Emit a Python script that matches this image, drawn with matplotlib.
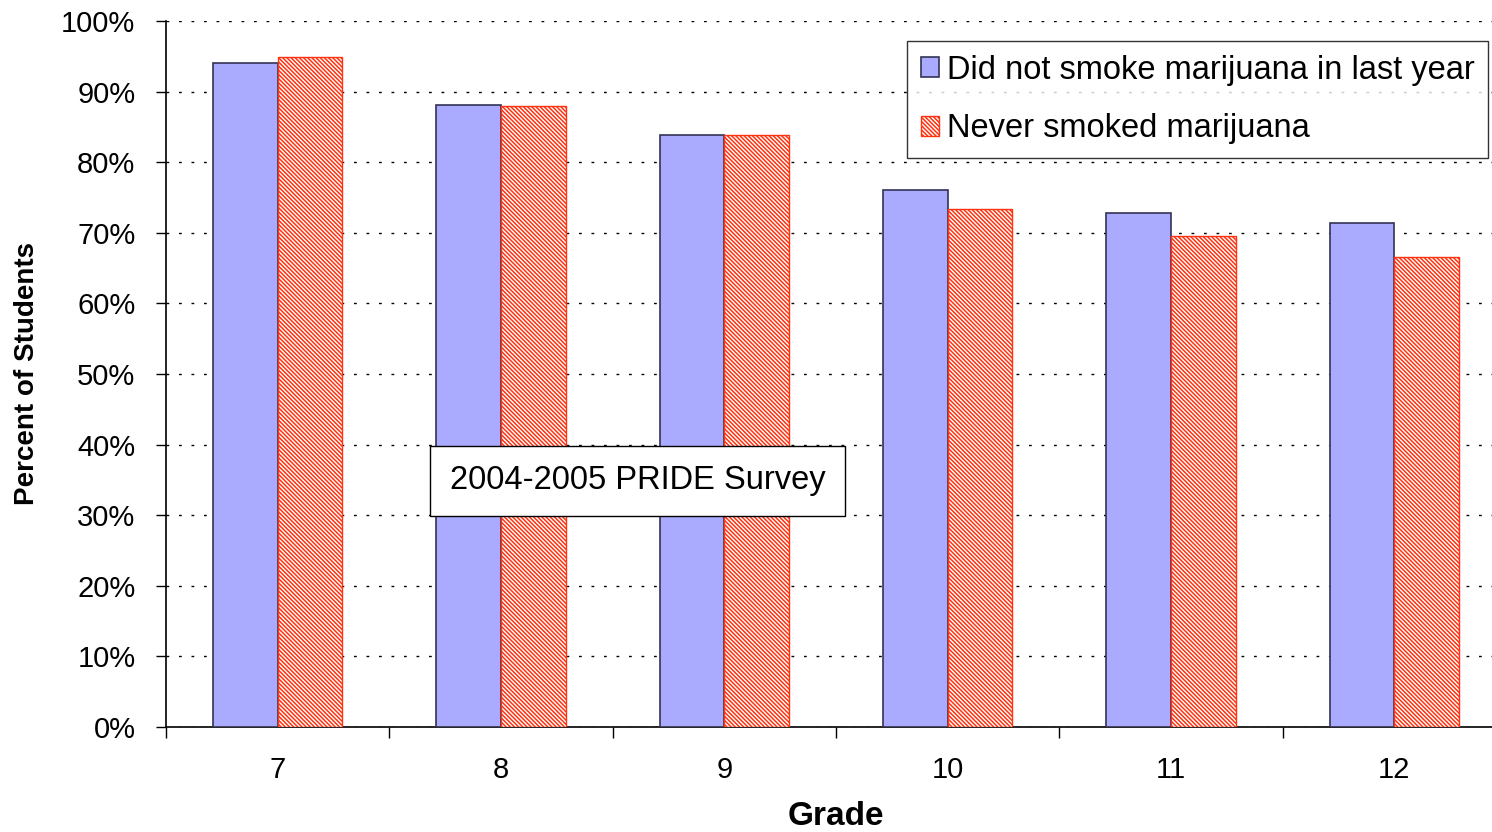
import numpy as np
import matplotlib.pyplot as plt
from matplotlib.ticker import FixedLocator, PercentFormatter

plt.rcParams['font.family'] = ['Liberation Sans', 'DejaVu Sans']
plt.rcParams['hatch.linewidth'] = 1.1

grades = ['7', '8', '9', '10', '11', '12']
not_last_year = [94.0, 88.1, 83.9, 76.1, 72.8, 71.4]
never_smoked = [94.9, 88.0, 83.8, 73.4, 69.5, 66.6]

fig = plt.figure(figsize=(14.92, 8.32), dpi=100)
ax = fig.add_axes([166 / 1492, 1 - 727 / 832, 1340 / 1492, 706 / 832])

x = np.arange(len(grades))
w = 0.29
ax.bar(x - w / 2, not_last_year, w, color='#AAAAFF', edgecolor='#333355',
       linewidth=1.2, label='Did not smoke marijuana in last year', zorder=3)
ax.bar(x + w / 2, never_smoked, w, color='white', edgecolor='#FF3311',
       hatch='\\' * 8, linewidth=1.0, label='Never smoked marijuana', zorder=3)

ax.set_xlim(-0.5, len(grades) - 0.5)
ax.set_ylim(0, 100)
ax.set_yticks(np.arange(0, 101, 10))
ax.yaxis.set_major_formatter(PercentFormatter(decimals=0))
ax.set_xticks(x)
ax.set_xticklabels(grades)
ax.xaxis.set_minor_locator(FixedLocator(np.arange(-0.5, len(grades), 1.0)))
ax.tick_params(axis='x', which='major', length=0, pad=21, labelsize=21)
ax.tick_params(axis='x', which='minor', length=8, width=1, direction='out')
ax.tick_params(axis='y', length=7, width=1, direction='out', labelsize=21, pad=15)

ax.grid(axis='y', color='black', linestyle=(0, (2, 7)), linewidth=1.0, zorder=0)
for s in ['top', 'right']:
    ax.spines[s].set_visible(False)
ax.spines['left'].set_linewidth(1.2)
ax.spines['bottom'].set_linewidth(1.2)

ax.set_xlabel('Grade', fontsize=24, fontweight='bold', labelpad=12)
ax.set_ylabel('Percent of Students', fontsize=20, fontweight='bold', labelpad=15)

leg = ax.legend(loc='upper left', bbox_to_anchor=(741 / 1340, 1 - 20 / 706),
                fontsize=23.5, frameon=True, fancybox=False, edgecolor='black',
                handlelength=0.55, handleheight=0.55, handletextpad=0.25,
                labelspacing=0.85, borderpad=0.42, borderaxespad=0)
leg.get_frame().set_linewidth(1.0)

ax.text(0.352, 0.349, '2004-2005 PRIDE Survey', transform=ax.transAxes,
        fontsize=23.5, ha='center', va='center', zorder=5,
        bbox=dict(boxstyle='square,pad=0.6', facecolor='white',
                  edgecolor='black', linewidth=1.0))

fig.savefig('out.png', dpi=100)
